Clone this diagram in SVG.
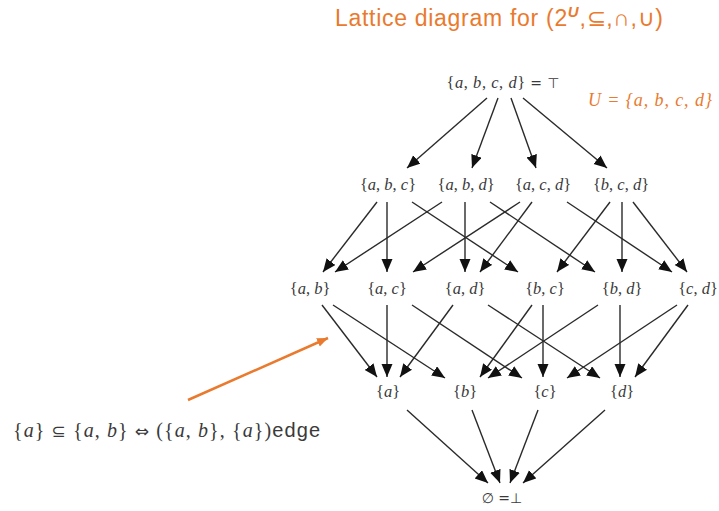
<svg xmlns="http://www.w3.org/2000/svg" width="719" height="511" viewBox="0 0 719 511">
<style>
.m{font-family:"Liberation Serif","DejaVu Serif",serif;font-size:16.5px;fill:#3a3a3a;text-anchor:middle}
.v{font-style:italic}
.s{font-family:"DejaVu Sans",sans-serif;font-size:14px}
.e line{stroke:#2a2a2a;stroke-width:1.4;marker-end:url(#ah)}
.o{fill:#E97A2E}
</style>
<defs>
<marker id="ah" markerUnits="userSpaceOnUse" markerWidth="14" markerHeight="12" refX="13" refY="5.5" orient="auto">
<path d="M0,0 L13,5.5 L0,11 Z" fill="#111"/>
</marker>
<marker id="oh" markerUnits="userSpaceOnUse" markerWidth="12" markerHeight="10" refX="11" refY="5" orient="auto">
<path d="M0,0.5 L11,5 L0,9.5 Z" fill="#E97A2E"/>
</marker>
</defs>
<rect width="719" height="511" fill="#fff"/>

<text id="title" class="o" x="335" y="26" font-family="Liberation Sans,Arial,sans-serif" font-size="23" textLength="328" lengthAdjust="spacing">Lattice diagram for (2<tspan dy="-9" font-size="15" font-style="italic" font-weight="bold">U</tspan><tspan dy="9">,⊆,∩,∪)</tspan></text>
<text id="universe" class="o" x="588" y="106" font-family="Liberation Serif,DejaVu Serif,serif" font-size="18" font-style="italic" textLength="124" lengthAdjust="spacing">U = {a, b, c, d}</text>

<g class="e" id="connectors">
<line x1="487" y1="98" x2="407" y2="168"/>
<line x1="498" y1="98" x2="472" y2="168"/>
<line x1="511" y1="98" x2="536" y2="168"/>
<line x1="523" y1="98" x2="607" y2="168"/>

<line x1="377" y1="202" x2="323" y2="272"/>
<line x1="387" y1="202" x2="387" y2="272"/>
<line x1="412" y1="202" x2="518" y2="272"/>
<line x1="442" y1="202" x2="335" y2="272"/>
<line x1="465" y1="202" x2="465" y2="272"/>
<line x1="490" y1="202" x2="595" y2="272"/>
<line x1="520" y1="202" x2="413" y2="272"/>
<line x1="532" y1="202" x2="480" y2="272"/>
<line x1="567" y1="202" x2="672" y2="272"/>
<line x1="610" y1="202" x2="557" y2="272"/>
<line x1="622" y1="202" x2="622" y2="272"/>
<line x1="633" y1="202" x2="687" y2="272"/>

<line x1="322" y1="305" x2="377" y2="377"/>
<line x1="333" y1="305" x2="445" y2="378"/>
<line x1="387" y1="305" x2="387" y2="377"/>
<line x1="412" y1="305" x2="522" y2="378"/>
<line x1="453" y1="305" x2="400" y2="377"/>
<line x1="488" y1="305" x2="600" y2="378"/>
<line x1="532" y1="305" x2="480" y2="377"/>
<line x1="543" y1="305" x2="543" y2="377"/>
<line x1="598" y1="305" x2="488" y2="378"/>
<line x1="620" y1="305" x2="620" y2="377"/>
<line x1="677" y1="305" x2="567" y2="378"/>
<line x1="688" y1="305" x2="635" y2="377"/>

<line x1="407" y1="410" x2="488" y2="483"/>
<line x1="472" y1="410" x2="500" y2="483"/>
<line x1="538" y1="410" x2="510" y2="483"/>
<line x1="605" y1="410" x2="523" y2="483"/>
</g>

<g id="top"><text class="m" x="503" y="88" textLength="113" lengthAdjust="spacing">{<tspan class="v">a</tspan>, <tspan class="v">b</tspan>, <tspan class="v">c</tspan>, <tspan class="v">d</tspan>} <tspan class="s">=</tspan> <tspan class="s">⊤</tspan></text></g>

<g id="abc"><text class="m" x="388" y="190">{<tspan class="v">a</tspan>, <tspan class="v">b</tspan>, <tspan class="v">c</tspan>}</text></g>
<g id="abd"><text class="m" x="466" y="190">{<tspan class="v">a</tspan>, <tspan class="v">b</tspan>, <tspan class="v">d</tspan>}</text></g>
<g id="acd"><text class="m" x="543" y="190">{<tspan class="v">a</tspan>, <tspan class="v">c</tspan>, <tspan class="v">d</tspan>}</text></g>
<g id="bcd"><text class="m" x="621" y="190">{<tspan class="v">b</tspan>, <tspan class="v">c</tspan>, <tspan class="v">d</tspan>}</text></g>

<g id="ab"><text class="m" x="310" y="294">{<tspan class="v">a</tspan>, <tspan class="v">b</tspan>}</text></g>
<g id="ac"><text class="m" x="387" y="294">{<tspan class="v">a</tspan>, <tspan class="v">c</tspan>}</text></g>
<g id="ad"><text class="m" x="465" y="294">{<tspan class="v">a</tspan>, <tspan class="v">d</tspan>}</text></g>
<g id="bc"><text class="m" x="545" y="294">{<tspan class="v">b</tspan>, <tspan class="v">c</tspan>}</text></g>
<g id="bd"><text class="m" x="622" y="294">{<tspan class="v">b</tspan>, <tspan class="v">d</tspan>}</text></g>
<g id="cd"><text class="m" x="698" y="294">{<tspan class="v">c</tspan>, <tspan class="v">d</tspan>}</text></g>

<g id="a"><text class="m" x="388" y="397">{<tspan class="v">a</tspan>}</text></g>
<g id="b"><text class="m" x="465" y="397">{<tspan class="v">b</tspan>}</text></g>
<g id="c"><text class="m" x="545" y="397">{<tspan class="v">c</tspan>}</text></g>
<g id="d"><text class="m" x="622" y="397">{<tspan class="v">d</tspan>}</text></g>

<g id="bottom"><text class="m" x="502" y="503"><tspan class="s">∅</tspan> <tspan class="s">=⊥</tspan></text></g>

<g id="annotation">
<line x1="188" y1="400" x2="328" y2="338" stroke="#E97A2E" stroke-width="2.5" marker-end="url(#oh)"/>
<text x="13" y="437" font-family="Liberation Serif,DejaVu Serif,serif" font-size="20" fill="#3a3a3a" textLength="307" lengthAdjust="spacing">{<tspan class="v">a</tspan>} <tspan font-family="DejaVu Sans,sans-serif" font-size="17">⊆</tspan> {<tspan class="v">a</tspan>, <tspan class="v">b</tspan>} <tspan font-family="DejaVu Sans,sans-serif" font-size="17">⇔</tspan> ({<tspan class="v">a</tspan>, <tspan class="v">b</tspan>}, {<tspan class="v">a</tspan>})<tspan font-family="Liberation Sans,Arial,sans-serif">edge</tspan></text>
</g>
</svg>
